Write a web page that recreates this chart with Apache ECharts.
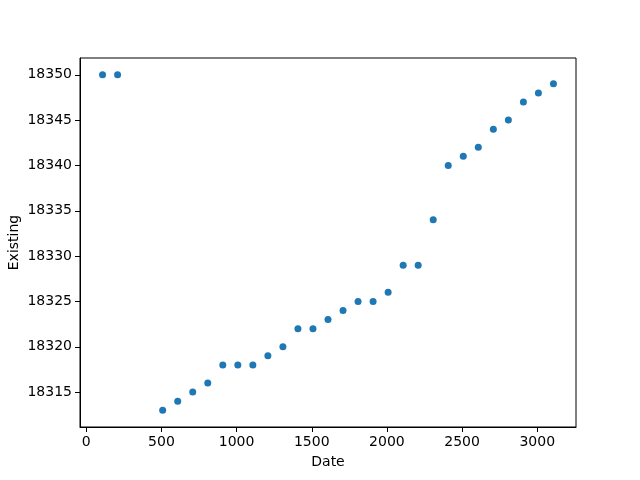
<!DOCTYPE html>
<html>
<head>
<meta charset="utf-8">
<script src="https://cdn.jsdelivr.net/npm/echarts@6/dist/echarts.min.js"></script>
<style>html,body{margin:0;padding:0;background:#fff}#c{width:640px;height:480px}</style>
</head>
<body>
<div id="c"></div>
<script>
var dates = [108, 208, 508, 608, 708, 808, 908, 1008, 1108, 1208, 1308, 1408, 1508, 1608, 1708, 1808, 1908, 2008, 2108, 2208, 2308, 2408, 2508, 2608, 2708, 2808, 2908, 3008, 3108];
var existing = [18350, 18350, 18313, 18314, 18315, 18316, 18318, 18318, 18318, 18319, 18320, 18322, 18322, 18323, 18324, 18325, 18325, 18326, 18329, 18329, 18334, 18340, 18341, 18342, 18344, 18345, 18347, 18348, 18349];
var xTicks = [0, 500, 1000, 1500, 2000, 2500, 3000];
var yTicks = [18315, 18320, 18325, 18330, 18335, 18340, 18345, 18350];

function pad(arr) {
  var mn = Math.min.apply(null, arr), mx = Math.max.apply(null, arr);
  var m = (mx - mn) * 0.05;
  return [mn - m, mx + m];
}
var xr = pad(dates), yr = pad(existing);
var data = dates.map(function (d, i) { return [d, existing[i]]; });
var font = 'DejaVu Sans';
function plain(v) { return String(v); }

var chart = echarts.init(document.getElementById('c'), null, {renderer: 'canvas'});
chart.setOption({
  animation: false,
  backgroundColor: '#fff',
  grid: {left: 80, right: 64, top: 58, bottom: 53, containLabel: false, outerBoundsMode: 'none',
         show: true, borderColor: '#000', borderWidth: 1, backgroundColor: 'transparent'},
  xAxis: {
    type: 'value', min: xr[0], max: xr[1],
    name: 'Date', nameLocation: 'middle', nameGap: 28, nameMoveOverlap: false,
    nameTextStyle: {fontFamily: font, fontSize: 14, color: '#000'},
    axisLine: {show: true, onZero: false, lineStyle: {color: '#000', width: 1}},
    axisTick: {show: true, length: 5, lineStyle: {color: '#000', width: 1}, customValues: xTicks},
    axisLabel: {fontFamily: font, fontSize: 14, color: '#000', margin: 8, customValues: xTicks, formatter: plain},
    splitLine: {show: false}
  },
  yAxis: {
    type: 'value', min: yr[0], max: yr[1],
    name: 'Existing', nameLocation: 'middle', nameGap: 59, nameRotate: 90, nameMoveOverlap: false,
    nameTextStyle: {fontFamily: font, fontSize: 14, color: '#000'},
    axisLine: {show: true, onZero: false, lineStyle: {color: '#000', width: 1}},
    axisTick: {show: true, length: 5, lineStyle: {color: '#000', width: 1}, customValues: yTicks},
    axisLabel: {fontFamily: font, fontSize: 14, color: '#000', margin: 8, customValues: yTicks, formatter: plain},
    splitLine: {show: false}
  },
  series: [{
    type: 'scatter', data: data, symbolSize: 7,
    itemStyle: {color: '#1f77b4', opacity: 1}
  }]
});
</script>
</body>
</html>
